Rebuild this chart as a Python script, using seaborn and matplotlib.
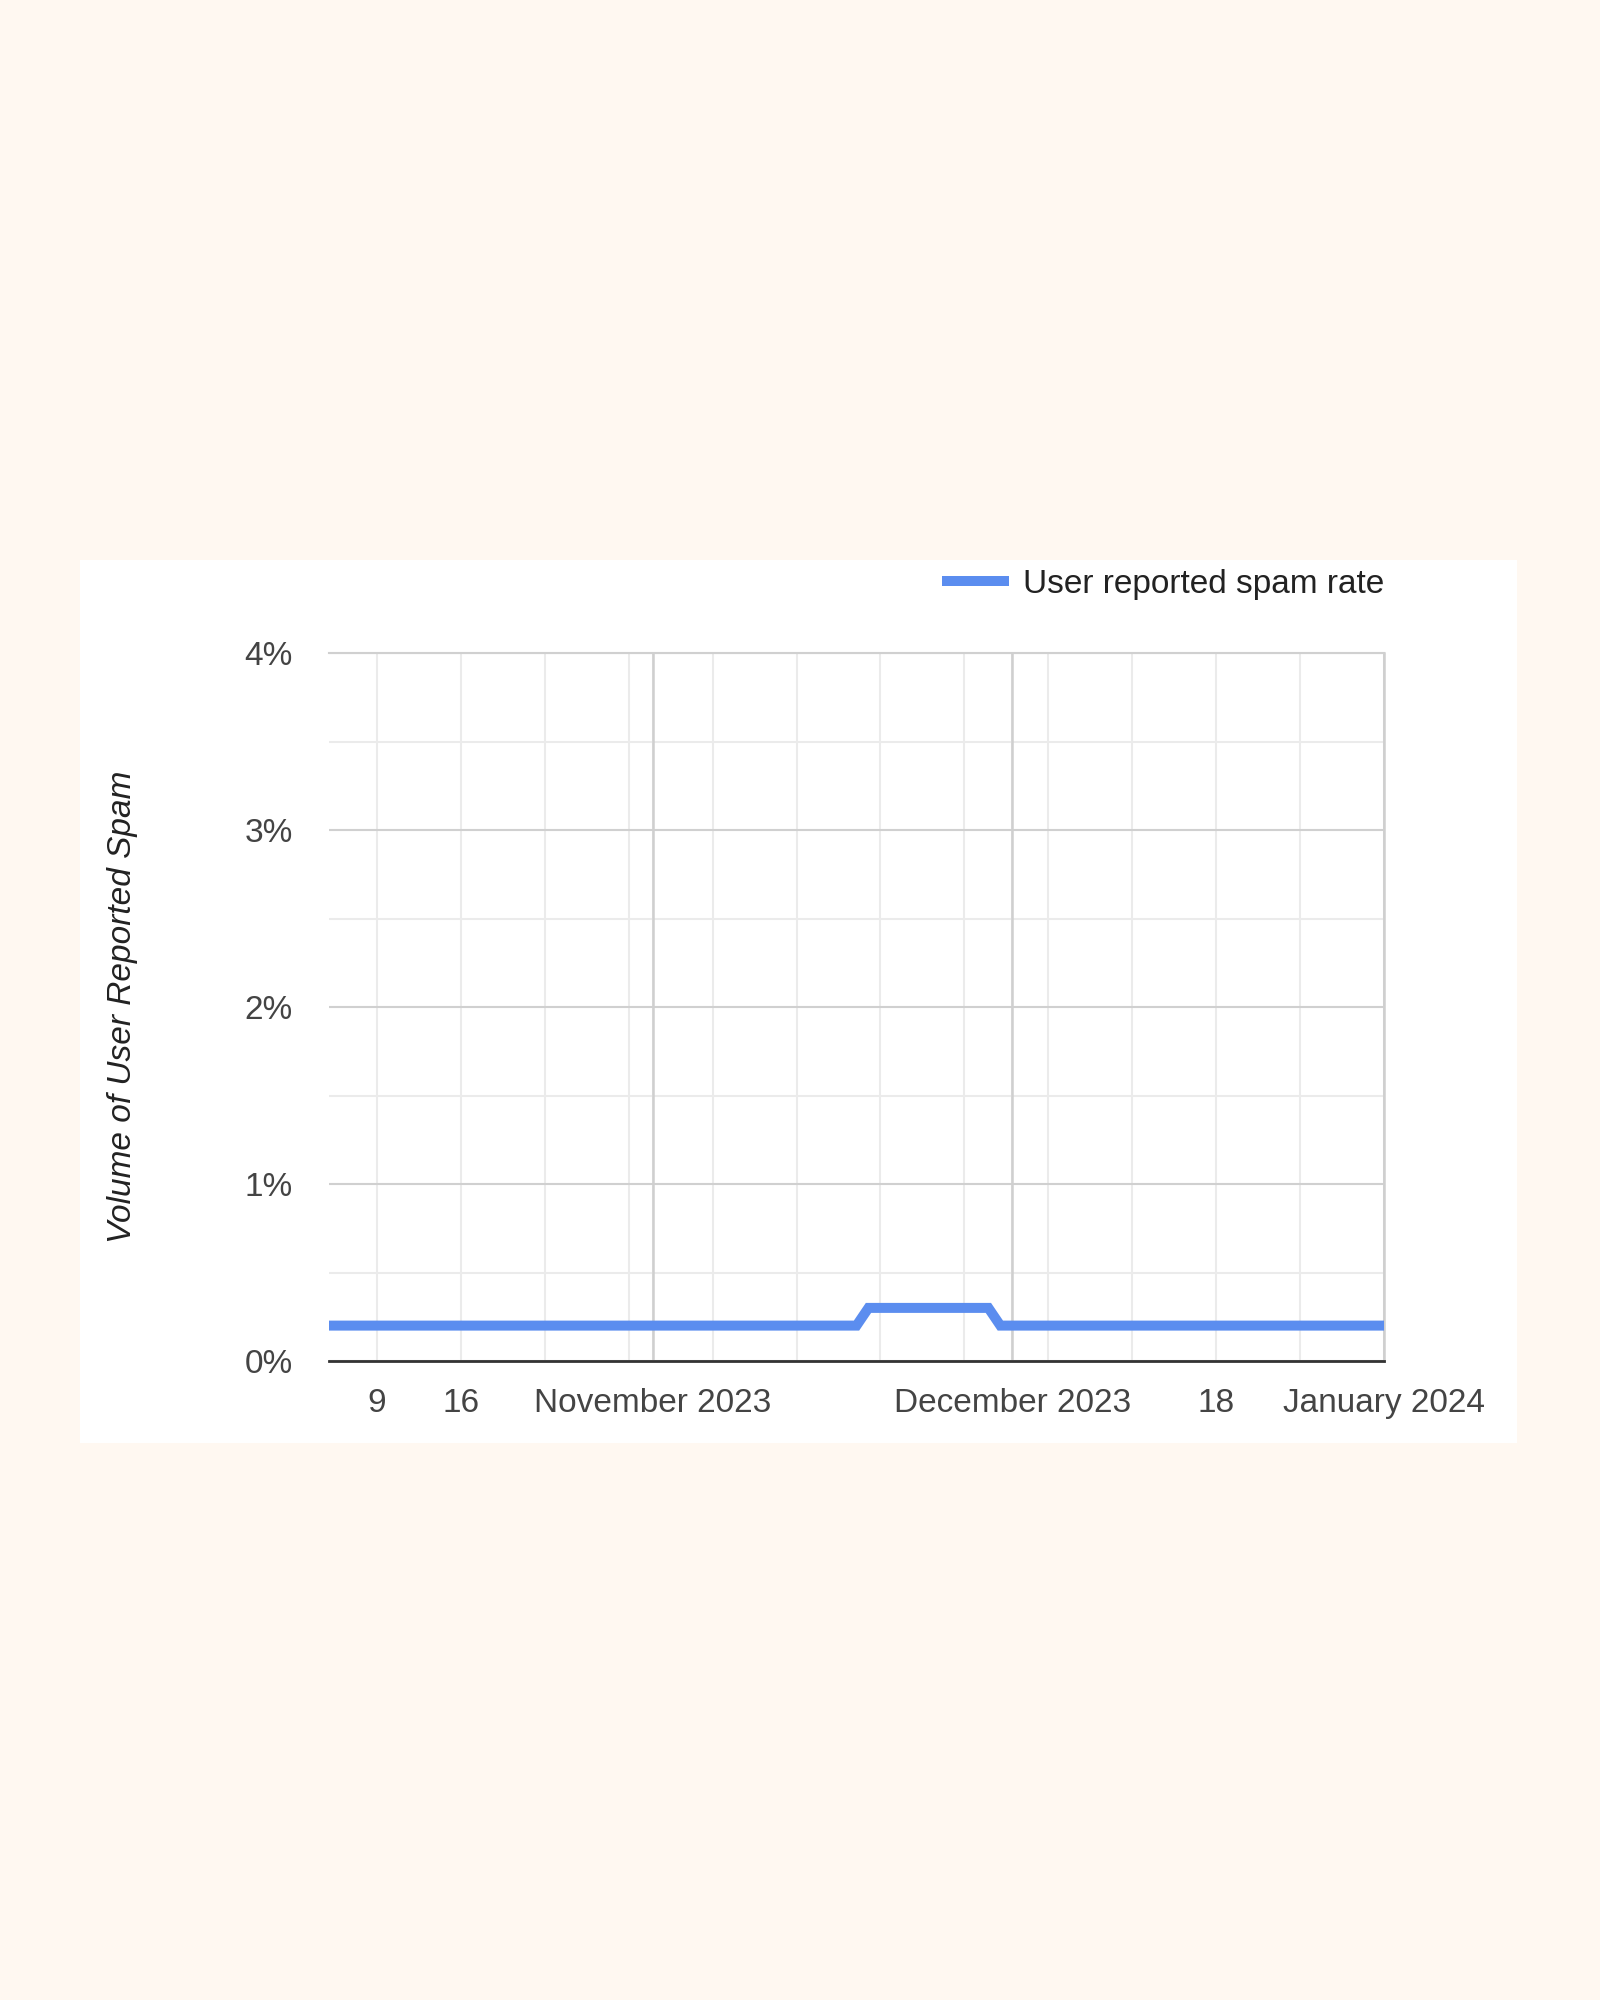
import pandas as pd
import numpy as np
import matplotlib
matplotlib.use("Agg")
import matplotlib.pyplot as plt
import matplotlib.dates as mdates
from matplotlib.patches import Rectangle
import seaborn as sns

# spam rate (percent), points where the line changes
dates = ["2023-10-05", "2023-11-18", "2023-11-19", "2023-11-29", "2023-11-30", "2024-01-01"]
spam_rate = [0.2, 0.2, 0.3, 0.3, 0.2, 0.2]

tick_dates = ["2023-10-09", "2023-10-16", "2023-11-01", "2023-12-01", "2023-12-18", "2024-01-01"]
tick_labels = ["9", "16", "November 2023", "December 2023", "18", "January 2024"]
month_lines = ["2023-11-01", "2023-12-01", "2024-01-01"]
y_ticks = [0, 1, 2, 3, 4]
y_labels = ["0%", "1%", "2%", "3%", "4%"]

df = pd.DataFrame({"date": pd.to_datetime(dates), "rate": spam_rate})

sns.set_style("white")
plt.rcParams['font.family'] = ['Liberation Sans', 'DejaVu Sans']

fig = plt.figure(figsize=(16, 20), dpi=100)
fig.patch.set_facecolor("#fff8f1")
# white card behind the chart
card = Rectangle((80 / 1600, 1 - 1443 / 2000), (1517 - 80) / 1600, (1443 - 560) / 2000,
                 transform=fig.transFigure, facecolor="white", edgecolor="none", zorder=-5)
fig.add_artist(card)

ax = fig.add_axes([329 / 1600, 1 - 1361 / 2000, (1384 - 329) / 1600, (1361 - 653) / 2000])
ax.set_facecolor("white")

sns.lineplot(data=df, x="date", y="rate", ax=ax, color="#5b8def", linewidth=7.2,
             label="User reported spam rate", zorder=5, solid_joinstyle="miter",
             solid_capstyle="butt")

ax.set_xlim(pd.Timestamp("2023-10-05"), pd.Timestamp("2024-01-01"))
ax.set_ylim(0, 4)

# x axis: weekly light grid, month lines darker, labels at chosen ticks
ax.xaxis.set_minor_locator(mdates.WeekdayLocator(byweekday=mdates.MO))
ax.set_xticks(pd.to_datetime(tick_dates))
ax.set_xticklabels(tick_labels)
ax.grid(False)
ax.grid(which="both", axis="x", color="#ebebeb", linewidth=1.5)
for d in month_lines:
    ax.axvline(pd.Timestamp(d), color="#cfcfcf", linewidth=1.8, zorder=1)

# y axis
ax.set_yticks(y_ticks)
ax.set_yticklabels(y_labels)
ax.set_yticks([0.5, 1.5, 2.5, 3.5], minor=True)
ax.grid(which="major", axis="y", color="#d0d0d0", linewidth=1.5)
ax.grid(which="minor", axis="y", color="#ebebeb", linewidth=1.5)
ax.set_axisbelow(True)

ax.tick_params(axis="both", which="both", length=0)
ax.tick_params(axis="y", labelsize=24, labelcolor="#444444", pad=26)
ax.tick_params(axis="x", labelsize=24, labelcolor="#444444", pad=19.5)

ax.set_xlabel("")
ax.set_ylabel("Volume of User Reported Spam", fontsize=24, fontstyle="italic", color="#222222")
ax.yaxis.label.set_va("center")
ax.yaxis.set_label_coords(-0.196, 0.5)

ax.spines["left"].set_visible(False)
ax.spines["top"].set_color("#d0d0d0")
ax.spines["top"].set_linewidth(1.5)
ax.spines["right"].set_color("#cfcfcf")
ax.spines["right"].set_linewidth(1.8)
ax.spines["bottom"].set_color("#333333")
ax.spines["bottom"].set_linewidth(2)

leg = ax.legend(loc="center right", bbox_to_anchor=(1.0, 1.097), frameon=False, fontsize=24,
                handlelength=2.0, handletextpad=0.42, borderpad=0, borderaxespad=0)
for t in leg.get_texts():
    t.set_color("#222222")
for h in leg.get_lines():
    h.set_linewidth(7.2)
    h.set_solid_capstyle("butt")

fig.savefig("out.png", dpi=100, facecolor=fig.get_facecolor())
